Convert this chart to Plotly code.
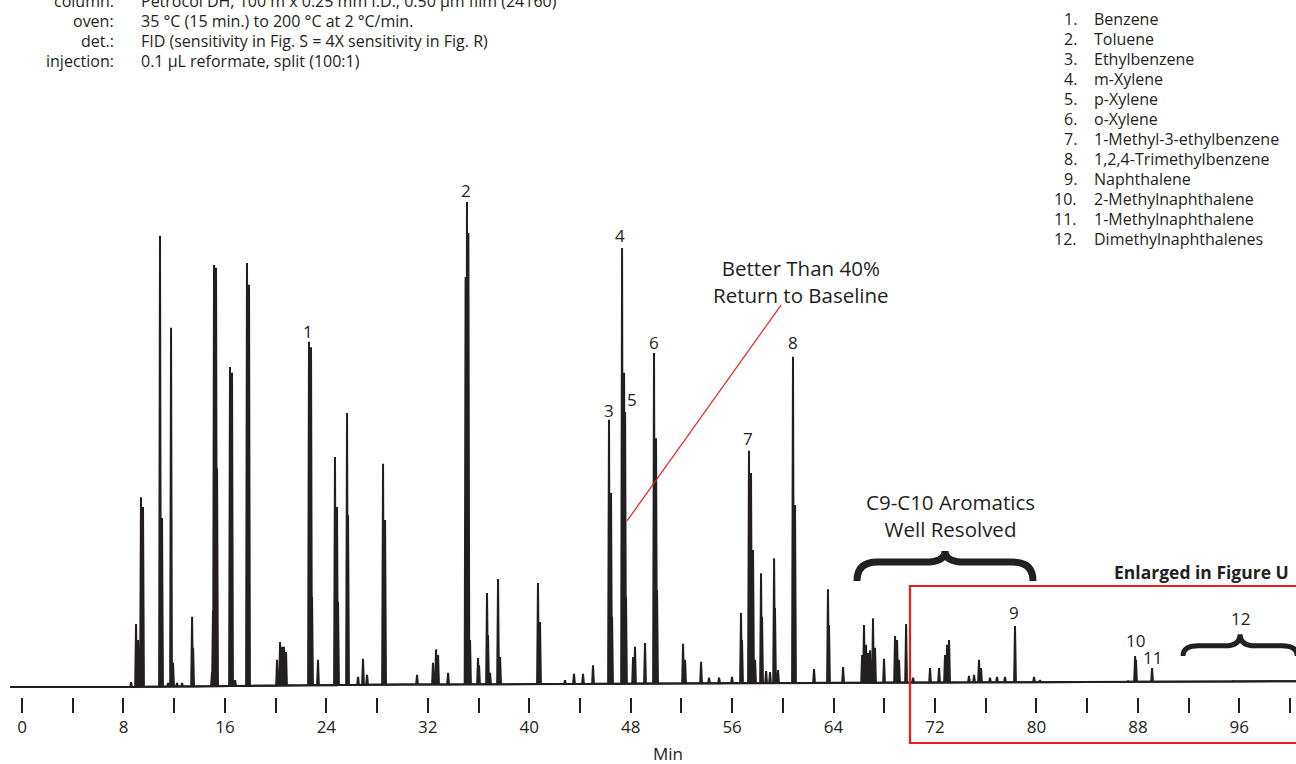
import numpy as np
import plotly.graph_objects as go

# ---------------------------------------------------------------------------
# Chromatogram of a reformate on Petrocol DH (FID). Peaks listed as
# retention time (min) and response (relative units, toluene = 100).
# ---------------------------------------------------------------------------
peak_time = [
    8.60, 8.99, 9.15, 9.38, 9.54, 10.88, 11.04, 11.51, 11.75, 11.91,
    12.22, 12.62, 13.41, 13.49, 14.98, 15.06, 15.14, 15.30, 15.38, 16.40,
    16.56, 16.80, 17.74, 17.90, 20.11, 20.35, 20.50, 20.66, 20.82, 22.63,
    22.79, 22.87, 23.34, 24.68, 24.84, 24.92, 25.63, 25.71, 26.50, 26.89,
    27.21, 28.47, 28.63, 31.15, 32.41, 32.65, 32.81, 33.60, 34.98, 35.09,
    35.20, 35.33, 35.96, 36.04, 36.67, 36.75, 36.91, 37.54, 37.70, 40.69,
    40.85, 42.82, 43.53, 44.24, 45.03, 46.29, 46.45, 46.53, 47.32, 47.48,
    47.56, 47.63, 48.19, 48.34, 49.13, 49.84, 50.00, 50.08, 52.13, 52.29,
    53.55, 54.18, 54.97, 55.99, 56.70, 56.78, 57.33, 57.49, 57.65, 57.81,
    58.28, 58.36, 58.68, 58.99, 59.31, 59.38, 59.62, 60.80, 60.96, 62.46,
    63.56, 63.64, 64.75, 66.25, 66.40, 66.56, 66.72, 66.88, 67.11, 67.27,
    67.98, 68.85, 69.01, 69.16, 69.72, 70.27, 71.61, 72.32, 72.79, 72.95,
    73.11, 74.68, 75.08, 75.47, 75.63, 76.34, 76.89, 77.52, 78.31, 79.81,
    80.28, 87.22, 87.78, 87.85, 89.12, 95.50,
]
peak_height = [
    0.8, 12.8, 9.5, 39.0, 37.0, 93.0, 34.7, 0.6, 74.0, 4.8,
    0.6, 0.6, 14.3, 7.9, 2.9, 15.7, 87.0, 86.4, 45.0, 65.9,
    64.7, 1.2, 87.4, 82.9, 5.4, 9.1, 8.1, 8.1, 7.0, 71.1,
    70.0, 18.4, 5.4, 47.3, 37.0, 17.4, 56.4, 35.3, 1.9, 5.6,
    2.3, 45.9, 34.3, 2.3, 4.8, 7.6, 6.4, 2.7, 84.5, 100.0,
    93.6, 9.5, 5.8, 4.3, 19.2, 10.5, 2.7, 22.1, 6.0, 21.3,
    13.2, 1.2, 2.5, 2.5, 4.3, 55.0, 39.9, 14.3, 90.5, 64.7,
    56.6, 18.4, 6.0, 8.1, 8.9, 68.8, 51.2, 19.8, 8.7, 5.4,
    5.0, 1.7, 1.7, 1.9, 15.1, 9.5, 48.6, 44.0, 28.1, 5.4,
    23.3, 14.3, 3.1, 2.9, 26.4, 16.1, 3.3, 68.0, 37.4, 3.5,
    20.0, 12.6, 3.9, 6.4, 12.6, 8.5, 6.8, 7.4, 14.0, 7.9,
    5.6, 10.3, 9.5, 5.4, 12.8, 1.7, 3.7, 3.7, 6.4, 8.5,
    9.5, 2.1, 2.3, 5.4, 3.7, 1.7, 1.9, 1.9, 12.4, 1.9,
    1.2, 1.0, 6.2, 5.4, 3.7, 1.0,
]

# Slowly rising baseline (temperature-programmed run)
baseline_time = [-0.95, 8.3, 30.0, 42.0, 55.5, 80.9, 100.5]
baseline_level = [-0.2, -0.2, 0.3, 0.4, 0.6, 0.8, 1.0]

# Identified compounds
compound_number = ["1.", "2.", "3.", "4.", "5.", "6.", "7.", "8.", "9.", "10.", "11.", "12."]
compound_name = [
    "Benzene", "Toluene", "Ethylbenzene", "m-Xylene", "p-Xylene", "o-Xylene",
    "1-Methyl-3-ethylbenzene", "1,2,4-Trimethylbenzene", "Naphthalene",
    "2-Methylnaphthalene", "1-Methylnaphthalene", "Dimethylnaphthalenes",
]

# Peak identification labels (label centre: time, response)
label_text = ["1", "2", "3", "4", "5", "6", "7", "8", "9", "10", "11", "12"]
label_time = [22.55, 35.02, 46.29, 47.16, 48.11, 49.84, 57.26, 60.80, 78.23, 87.78, 89.12, 96.06]
label_level = [73.3, 102.3, 57.0, 93.0, 59.1, 70.9, 51.2, 70.9, 15.1, 9.5, 5.8, 14.0]

# Run conditions
condition_key = ["column:", "oven:", "det.:", "injection:"]
condition_value = [
    "Petrocol DH, 100 m x 0.25 mm I.D., 0.50 µm film (24160)",
    "35 °C (15 min.) to 200 °C at 2 °C/min.",
    "FID (sensitivity in Fig. S = 4X sensitivity in Fig. R)",
    "0.1 µL reformate, split (100:1)",
]

# ---------------------------------------------------------------------------
INK = "#231f20"
RED = "#ed1c24"
FONT = "Open Sans"

W, H = 1296, 764
MARGIN_L, MARGIN_R, MARGIN_T, MARGIN_B = 10, 0, 100, 67
PLOT_W = W - MARGIN_L - MARGIN_R
PLOT_H = H - MARGIN_T - MARGIN_B
PLOT_BOTTOM = H - MARGIN_B

X_RANGE = [-0.95, 100.47]
Y_RANGE = [-2.273, 121.07]


def px_x(px):
    return (px - MARGIN_L) / PLOT_W


def px_y(py):
    return (PLOT_BOTTOM - py) / PLOT_H


# Build the detector trace: each peak is a narrow spike rising from the baseline
HALF_WIDTH = 0.07
order = np.argsort(peak_time)
tt = np.asarray(peak_time)[order]
hh = np.asarray(peak_height)[order]

xs, ys = [], []
knots = list(zip(baseline_time, baseline_level))
ki = 0
for t, h in zip(tt, hh):
    while ki < len(knots) and knots[ki][0] < t - HALF_WIDTH:
        xs.append(knots[ki][0]); ys.append(knots[ki][1]); ki += 1
    for xv, yv in ((t - HALF_WIDTH, None), (t, h), (t + HALF_WIDTH, None)):
        xs.append(xv)
        ys.append(np.interp(xv, baseline_time, baseline_level) if yv is None else yv)
while ki < len(knots):
    xs.append(knots[ki][0]); ys.append(knots[ki][1]); ki += 1

fig = go.Figure()
# baseline
fig.add_trace(go.Scatter(
    x=baseline_time, y=baseline_level, mode="lines",
    line=dict(color=INK, width=2), hoverinfo="skip",
))
# detector signal, filled down to the baseline
fig.add_trace(go.Scatter(
    x=xs, y=ys, mode="lines",
    line=dict(color=INK, width=2, simplify=False),
    fill="tonexty", fillcolor=INK,
    hoverinfo="skip",
))


def brace_path(xl, xr, xm, y_end, y_bar, y_tip, q):
    return (f"M {xl},{y_end} Q {xl},{y_bar} {xl + q},{y_bar} L {xm - q},{y_bar} "
            f"Q {xm},{y_bar} {xm},{y_tip} Q {xm},{y_bar} {xm + q},{y_bar} "
            f"L {xr - q},{y_bar} Q {xr},{y_bar} {xr},{y_end}")


shapes = [
    # C9-C10 aromatics brace
    dict(type="path", xref="x", yref="y",
         path=brace_path(65.85, 79.73, 72.79, 21.7, 25.6, 27.9, 1.6),
         line=dict(color=INK, width=7)),
    # Dimethylnaphthalenes brace
    dict(type="path", xref="x", yref="y",
         path=brace_path(91.56, 100.56, 96.06, 6.2, 8.3, 10.7, 1.2),
         line=dict(color=INK, width=5)),
    # pointer to the m-/p-xylene valley
    dict(type="line", xref="x", yref="y", x0=47.71, y0=34.1, x1=59.86, y1=78.7,
         line=dict(color=RED, width=1.2)),
    # region shown enlarged
    dict(type="rect", xref="paper", yref="paper",
         x0=px_x(910), x1=px_x(1302), y0=px_y(743), y1=px_y(586),
         line=dict(color=RED, width=2.2), fillcolor="rgba(0,0,0,0)"),
]

annotations = []


def text(x, y, s, size=16, xanchor="center", bold=False, xref="paper", yref="paper"):
    annotations.append(dict(
        x=x, y=y, xref=xref, yref=yref, text=f"<b>{s}</b>" if bold else s,
        showarrow=False, xanchor=xanchor, yanchor="middle", borderpad=0,
        font=dict(family=FONT, size=size, color=INK),
    ))


for i, (k, v) in enumerate(zip(condition_key, condition_value)):
    py = 1 + i * 20
    text(px_x(115), px_y(py), k, size=16, xanchor="right")
    text(px_x(140), px_y(py), v, size=16, xanchor="left")

for i, (n, name) in enumerate(zip(compound_number, compound_name)):
    py = 19 + i * 20
    text(px_x(1078), px_y(py), n, size=16, xanchor="right")
    text(px_x(1093), px_y(py), name, size=16, xanchor="left")

for s, t, lv in zip(label_text, label_time, label_level):
    text(t, lv, s, size=17, xref="x", yref="y")

text(px_x(801), px_y(281.5), "Better Than 40%<br>Return to Baseline", size=20.5)
text(px_x(950), px_y(515), "C9-C10 Aromatics<br>Well Resolved", size=20.5)
text(px_x(1290), px_y(572), "Enlarged in Figure U", size=17.5, xanchor="right", bold=True)
text(px_x(668), px_y(753), "Min", size=17)

fig.update_layout(
    width=W, height=H,
    margin=dict(l=MARGIN_L, r=MARGIN_R, t=MARGIN_T, b=MARGIN_B, pad=0),
    paper_bgcolor="white", plot_bgcolor="white",
    showlegend=False,
    shapes=shapes, annotations=annotations,
    xaxis=dict(
        range=X_RANGE, showgrid=False, zeroline=False, showline=False,
        tick0=0, dtick=8, ticks="outside", ticklen=15, tickwidth=2, tickcolor=INK,
        tickfont=dict(family=FONT, size=17, color=INK),
        minor=dict(tick0=0, dtick=4, ticks="outside", ticklen=15, tickwidth=2,
                   tickcolor=INK, showgrid=False),
        fixedrange=True,
    ),
    yaxis=dict(range=Y_RANGE, visible=False, fixedrange=True),
)

fig.write_html("out.html")
